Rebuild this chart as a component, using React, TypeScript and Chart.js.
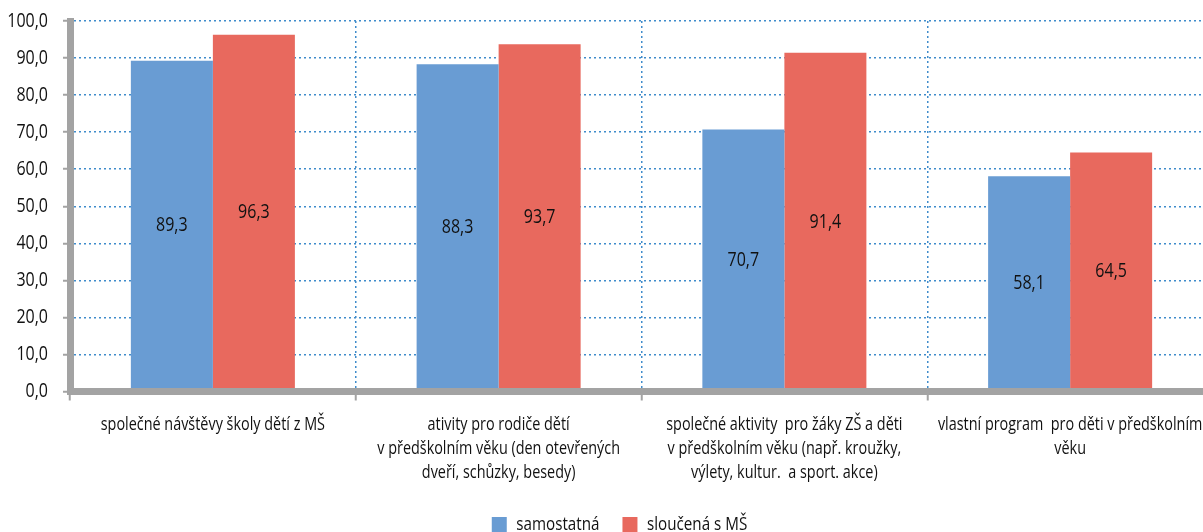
import React, { useEffect, useRef } from "react";
import { Chart, registerables } from "chart.js";

Chart.register(...registerables);

const categories: string[][] = [
  ["společné návštěvy školy dětí z MŠ"],
  ["ativity pro rodiče dětí", "v předškolním věku (den otevřených", "dveří, schůzky, besedy)"],
  ["společné aktivity  pro žáky ZŠ a děti", "v předškolním věku (např. kroužky,", "výlety, kultur.  a sport. akce)"],
  ["vlastní program  pro děti v předškolním", "věku"],
];
const seriesNames = ["samostatná", "sloučená s MŠ"];
const samostatna = [89.3, 88.3, 70.7, 58.1];
const sloucena = [96.3, 93.7, 91.4, 64.5];
const yTicks = [0, 10, 20, 30, 40, 50, 60, 70, 80, 90, 100];

const FONT = "'Open Sans', 'Noto Sans', sans-serif";
const TEXT = "#111111";
const AXIS_GRAY = "#a3a3a3";
const GRID_BLUE = "#3f8ccb";
const TEXT_SX = 0.8; // condensed look
const fmt = (v: number) => v.toFixed(1).replace(".", ",");

function condenseText(ctx: any) {
  if (ctx.__condensed) return;
  ctx.__condensed = true;
  const origFill = ctx.fillText.bind(ctx);
  const origMeasure = ctx.measureText.bind(ctx);
  ctx.fillText = (text: string, x: number, y: number, maxWidth?: number) => {
    ctx.save();
    ctx.translate(x, y);
    ctx.scale(TEXT_SX, 1);
    if (maxWidth !== undefined) origFill(text, 0, 0, maxWidth / TEXT_SX);
    else origFill(text, 0, 0);
    ctx.restore();
  };
  ctx.measureText = (text: string) => {
    const m = origMeasure(text);
    return {
      width: m.width * TEXT_SX,
      actualBoundingBoxAscent: m.actualBoundingBoxAscent,
      actualBoundingBoxDescent: m.actualBoundingBoxDescent,
      actualBoundingBoxLeft: m.actualBoundingBoxLeft * TEXT_SX,
      actualBoundingBoxRight: m.actualBoundingBoxRight * TEXT_SX,
    };
  };
}

const barLabels = {
  id: "barLabels",
  afterDatasetsDraw(chart: any) {
    const ctx = chart.ctx;
    ctx.save();
    ctx.font = `20px ${FONT}`;
    ctx.fillStyle = TEXT;
    ctx.textAlign = "center";
    ctx.textBaseline = "middle";
    chart.data.datasets.forEach((ds: any, di: number) => {
      const meta = chart.getDatasetMeta(di);
      meta.data.forEach((bar: any, i: number) => {
        const { x, y, base } = bar.getProps(["x", "y", "base"], true);
        ctx.fillText(fmt(ds.data[i]), x, (y + base) / 2);
      });
    });
    ctx.restore();
  },
};

export default function App() {
  const ref = useRef<HTMLCanvasElement | null>(null);
  useEffect(() => {
    if (!ref.current) return;
    const ctx2d = ref.current.getContext("2d");
    condenseText(ctx2d);
    Chart.defaults.font.family = FONT;
    Chart.defaults.color = TEXT;
    const chart = new Chart(ctx2d as any, {
      type: "bar",
      data: {
        labels: categories,
        datasets: [
          { label: seriesNames[0], data: samostatna, backgroundColor: "#699cd3", yAxisID: "y" },
          { label: seriesNames[1], data: sloucena, backgroundColor: "#e8695e", yAxisID: "y" },
        ],
      },
      options: {
        responsive: false,
        animation: false,
        devicePixelRatio: 1,
        layout: { padding: { top: 21, left: 0, right: 0, bottom: 0 } },
        datasets: { bar: { barPercentage: 1, categoryPercentage: 0.574 } },
        plugins: {
          legend: {
            position: "bottom",
            labels: {
              font: { size: 19, family: FONT },
              color: TEXT,
              boxWidth: 15,
              boxHeight: 15,
              padding: 23,
            },
          },
          tooltip: { enabled: false },
        },
        scales: {
          x: {
            offset: true,
            grid: {
              color: GRID_BLUE,
              lineWidth: 1.5,
              offset: true,
              tickLength: 9,
              tickColor: AXIS_GRAY,
              tickWidth: 2,
            },
            border: { color: AXIS_GRAY, width: 7, dash: [2, 3], z: 1 },
            ticks: {
              font: { size: 18, family: FONT, lineHeight: 24 / 18 },
              color: TEXT,
              padding: 12,
              maxRotation: 0,
              autoSkip: false,
            },
            afterFit: (s: any) => {
              s.height = 100.5;
              s.paddingLeft = 0;
              s.paddingRight = 0;
            },
          },
          y: {
            position: "left",
            min: 0,
            max: 100,
            afterBuildTicks: (s: any) => {
              s.ticks = yTicks.map((v) => ({ value: v }));
            },
            grid: {
              color: GRID_BLUE,
              lineWidth: 1.5,
              tickLength: 7,
              tickColor: AXIS_GRAY,
              tickWidth: 2,
            },
            border: { color: AXIS_GRAY, width: 7, dash: [2, 3] },
            ticks: {
              font: { size: 20, family: FONT },
              color: TEXT,
              padding: 15,
              callback: (v: any) => fmt(Number(v)),
            },
            afterFit: (s: any) => {
              s.width = 70;
              s.paddingTop = 0;
              s.paddingBottom = 0;
            },
          },
          yRight: {
            position: "right",
            display: true,
            grid: { display: false, drawOnChartArea: false },
            border: { display: false },
            ticks: { display: false },
            afterFit: (s: any) => {
              s.width = 26;
              s.paddingTop = 0;
              s.paddingBottom = 0;
            },
          },
        },
      },
      plugins: [barLabels],
    } as any);
    return () => chart.destroy();
  }, []);
  return (
    <div
      style={{
        position: "fixed",
        left: 0,
        top: 0,
        width: 1203,
        height: 532,
        overflow: "hidden",
        background: "#ffffff",
      }}
    >
      <canvas ref={ref} width={1239} height={544} style={{ display: "block", width: 1239, height: 544 }} />
    </div>
  );
}
